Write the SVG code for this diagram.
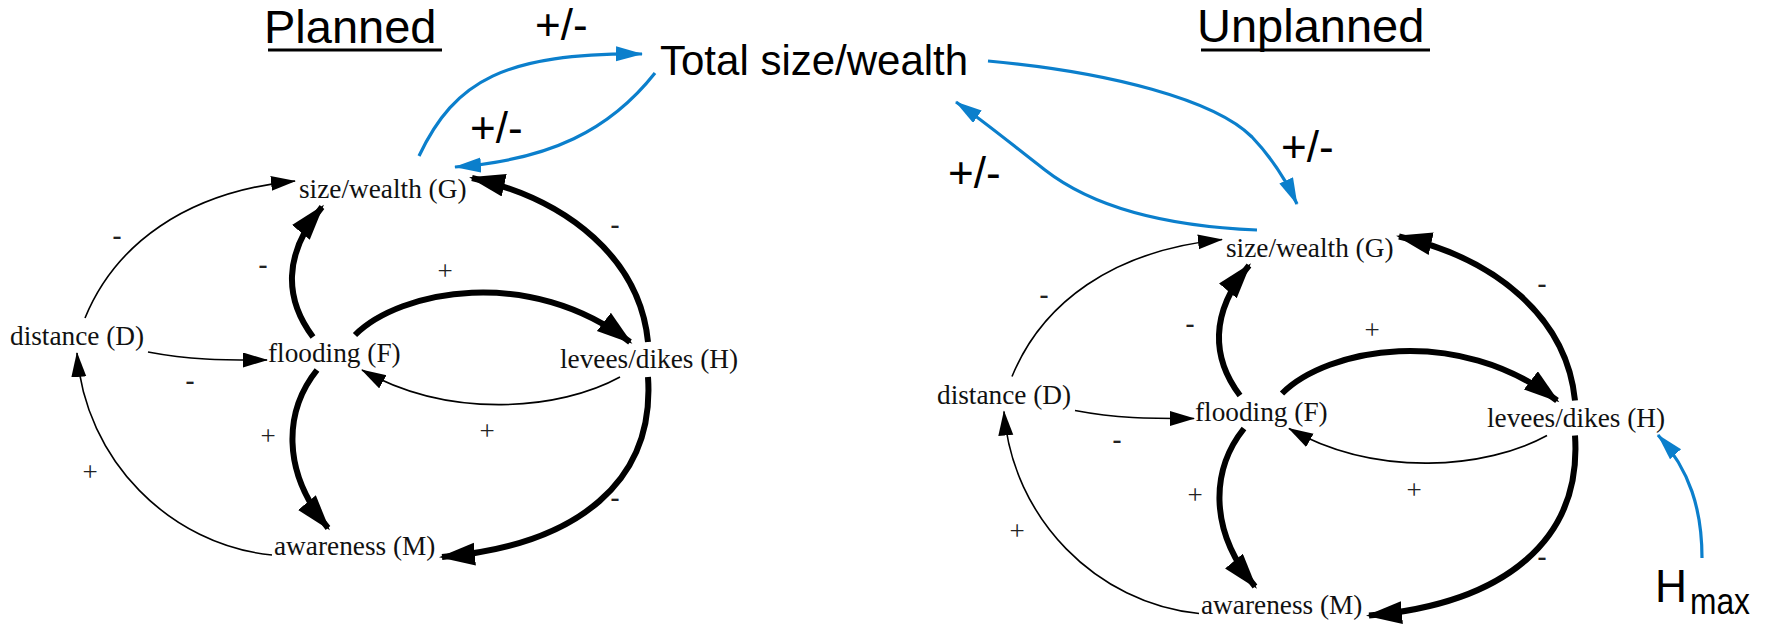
<svg xmlns="http://www.w3.org/2000/svg" width="1765" height="626" viewBox="0 0 1765 626">
<style>
.node{font-family:"Liberation Serif","Times New Roman",serif;font-size:27.3px;fill:#111}
.sign{font-family:"Liberation Serif","Times New Roman",serif;font-size:27px;fill:#222;text-anchor:middle}
.neg{font-weight:bold}
.title{font-family:"Liberation Sans",Arial,sans-serif;font-size:47px;fill:#000}
.pm{font-family:"Liberation Sans",Arial,sans-serif;font-size:44px;fill:#000}
.big{font-family:"Liberation Sans",Arial,sans-serif;font-size:42px;fill:#000}
.thin{fill:none;stroke:#000;stroke-width:1.6;marker-end:url(#ah-thin)}
.thick{fill:none;stroke:#000;stroke-width:6;marker-end:url(#ah-thick)}
.blue{fill:none;stroke:#0b7fcc;stroke-width:3.2;marker-end:url(#ah-blue)}
.ul{stroke:#000;stroke-width:2.8}
</style>
<defs>
<marker id="ah-thick" markerUnits="userSpaceOnUse" markerWidth="38" markerHeight="24" refX="33" refY="11.5" orient="auto"><path d="M0,0 L36,11.5 L0,23 z" fill="#000"/></marker>
<marker id="ah-thin" markerUnits="userSpaceOnUse" markerWidth="26" markerHeight="16" refX="24" refY="7.5" orient="auto"><path d="M0,0 L25,7.5 L0,15 z" fill="#000"/></marker>
<marker id="ah-blue" markerUnits="userSpaceOnUse" markerWidth="28" markerHeight="16" refX="26" refY="7.5" orient="auto"><path d="M0,0 L27,7.5 L0,15 z" fill="#0b7fcc"/></marker>
</defs>

<g id="title-planned"><text class="title" x="264" y="43">Planned</text><line class="ul" x1="268" y1="50" x2="442" y2="50"/></g>
<g id="title-unplanned"><text class="title" x="1197" y="42">Unplanned</text><line class="ul" x1="1201" y1="50" x2="1430" y2="50"/></g>
<g id="total"><text class="big" x="660" y="75">Total size/wealth</text></g>
<g id="hmax"><text font-family="Liberation Sans, Arial, sans-serif" fill="#000"><tspan x="1655" y="602" font-size="46" textLength="32" lengthAdjust="spacingAndGlyphs">H</tspan><tspan x="1690" y="614" font-size="37" textLength="60" lengthAdjust="spacingAndGlyphs">max</tspan></text></g>

<g id="planned">
<g id="p-G"><text class="node" x="299" y="198">size/wealth (G)</text></g>
<g id="p-D"><text class="node" x="10" y="345">distance (D)</text></g>
<g id="p-F"><text class="node" x="268" y="362">flooding (F)</text></g>
<g id="p-H"><text class="node" x="560" y="368">levees/dikes (H)</text></g>
<g id="p-M"><text class="node" x="274" y="555">awareness (M)</text></g>
<g id="p-connectors">
<path class="thin" d="M85,318 C115,245 185,192 295,181"/>
<path class="thick" d="M313,337 C285,300 282,255 322,207"/>
<path class="thick" d="M355,335 C400,290 530,265 630,342"/>
<path class="thin" d="M620,377 C560,410 450,420 362,370"/>
<path class="thin" d="M148,352 C190,360 220,360 267,360"/>
<path class="thick" d="M317,370 C285,410 280,470 328,528"/>
<path class="thin" d="M272,555 C170,545 85,460 77,353"/>
<path class="thick" d="M648,342 C640,260 570,200 472,178"/>
<path class="thick" d="M648,377 C655,480 580,545 442,557"/>
<text class="sign neg" x="117" y="244">-</text>
<text class="sign neg" x="263" y="273">-</text>
<text class="sign" x="445" y="280">+</text>
<text class="sign" x="487" y="440">+</text>
<text class="sign neg" x="190" y="389">-</text>
<text class="sign" x="268" y="445">+</text>
<text class="sign" x="90" y="481">+</text>
<text class="sign neg" x="615" y="233">-</text>
<text class="sign neg" x="615" y="506">-</text>
</g>
</g>

<g id="unplanned" transform="translate(927,58.5)">
<g id="u-G"><text class="node" x="299" y="198">size/wealth (G)</text></g>
<g id="u-D"><text class="node" x="10" y="345">distance (D)</text></g>
<g id="u-F"><text class="node" x="268" y="362">flooding (F)</text></g>
<g id="u-H"><text class="node" x="560" y="368">levees/dikes (H)</text></g>
<g id="u-M"><text class="node" x="274" y="555">awareness (M)</text></g>
<g id="u-connectors">
<path class="thin" d="M85,318 C115,245 185,192 295,181"/>
<path class="thick" d="M313,337 C285,300 282,255 322,207"/>
<path class="thick" d="M355,335 C400,290 530,265 630,342"/>
<path class="thin" d="M620,377 C560,410 450,420 362,370"/>
<path class="thin" d="M148,352 C190,360 220,360 267,360"/>
<path class="thick" d="M317,370 C285,410 280,470 328,528"/>
<path class="thin" d="M272,555 C170,545 85,460 77,353"/>
<path class="thick" d="M648,342 C640,260 570,200 472,178"/>
<path class="thick" d="M648,377 C655,480 580,545 442,557"/>
<text class="sign neg" x="117" y="244">-</text>
<text class="sign neg" x="263" y="273">-</text>
<text class="sign" x="445" y="280">+</text>
<text class="sign" x="487" y="440">+</text>
<text class="sign neg" x="190" y="389">-</text>
<text class="sign" x="268" y="445">+</text>
<text class="sign" x="90" y="481">+</text>
<text class="sign neg" x="615" y="233">-</text>
<text class="sign neg" x="615" y="506">-</text>
</g>
</g>

<g id="blue-connectors">
<path class="blue" d="M419,156 C455,80 505,53 642,54"/>
<path class="blue" d="M655,73 C610,130 550,160 455,167"/>
<path class="blue" d="M988,61 C1110,72 1215,100 1252,137 C1272,158 1286,180 1297,204"/>
<path class="blue" d="M1257,230 C1160,226 1090,205 1045,170 C1010,143 985,122 956,102"/>
<path class="blue" d="M1702,558 C1702,510 1690,470 1658,435"/>
<text class="pm" x="535" y="40">+/-</text>
<text class="pm" x="470" y="143">+/-</text>
<text class="pm" x="1281" y="162">+/-</text>
<text class="pm" x="948" y="188">+/-</text>
</g>
</svg>
